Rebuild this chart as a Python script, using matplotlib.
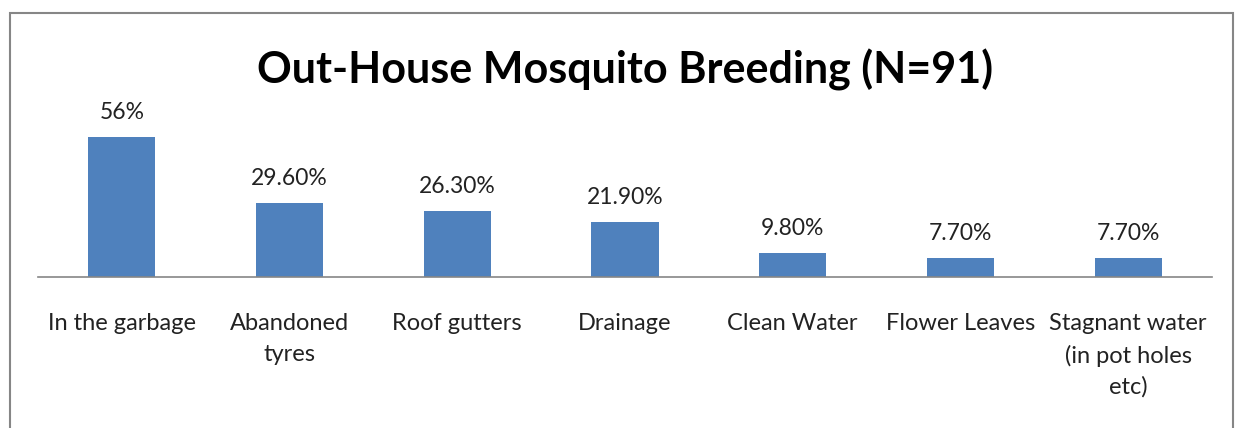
import matplotlib.pyplot as plt
import matplotlib.patches as patches

categories = ["In the garbage", "Abandoned\ntyres", "Roof gutters", "Drainage",
              "Clean Water", "Flower Leaves", "Stagnant water\n(in pot holes\netc)"]
values = [56, 29.6, 26.3, 21.9, 9.8, 7.7, 7.7]
value_labels = ["56%", "29.60%", "26.30%", "21.90%", "9.80%", "7.70%", "7.70%"]

plt.rcParams['font.family'] = ['Lato', 'DejaVu Sans']

fig = plt.figure(figsize=(12.36, 4.28), dpi=100)

# outer chart border (bottom cut off like the reference)
border = patches.Rectangle((9.5 / 1236, -0.05), (1233 - 9.5) / 1236, 1.05 - 12.5 / 428,
                           transform=fig.transFigure, fill=False,
                           edgecolor='#868686', linewidth=1.5)
fig.patches.append(border)

ax = fig.add_axes([38 / 1236, (428 - 277) / 428, 1174 / 1236, 150 / 428])
x = range(len(categories))
ax.bar(x, values, width=0.4, color='#4F81BD')
ax.set_xlim(-0.5, len(categories) - 0.5)
ax.set_ylim(0, 60)

for i, (v, lab) in enumerate(zip(values, value_labels)):
    ax.annotate(lab, (i, v), xytext=(0, 10), textcoords='offset points',
                ha='center', va='bottom', fontsize=16.5, color='#222222')

ax.set_xticks(list(x))
ax.set_xticklabels(categories, fontsize=17, color='#222222', linespacing=1.57, va='top')
ax.tick_params(axis='x', length=0, pad=26)
ax.set_yticks([])
for s in ['top', 'right', 'left']:
    ax.spines[s].set_visible(False)
ax.spines['bottom'].set_color('#868686')
ax.spines['bottom'].set_linewidth(1.2)

fig.text(625 / 1236, 1 - 70 / 428, "Out-House Mosquito Breeding (N=91)",
         ha='center', va='center', fontsize=31, fontweight='bold', color='black')

fig.savefig("out.png", dpi=100)
